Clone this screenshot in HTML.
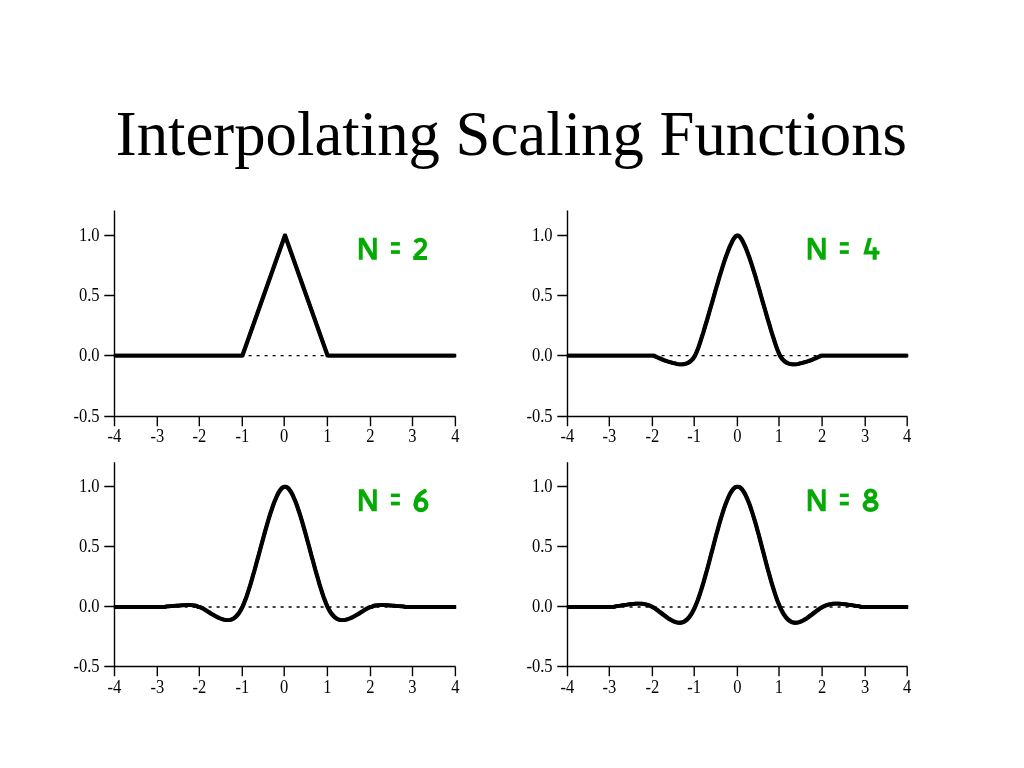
<!DOCTYPE html>
<html><head><meta charset="utf-8"><style>
html,body{margin:0;padding:0;background:#fff;overflow:hidden;}
svg{display:block;will-change:transform;}
</style></head><body>
<svg width="1024" height="768" viewBox="0 0 1024 768">
<rect width="1024" height="768" fill="#fff"/>
<text x="115.8" y="154.8" font-family="'Liberation Serif', serif" font-size="62.75" fill="#000" opacity="0.999">Interpolating Scaling Functions</text>
<g font-family="'Liberation Serif', serif" font-size="18" fill="#000" opacity="0.999">
<line x1="114.5" y1="355.6" x2="455.5" y2="355.6" stroke="#000" stroke-width="1.4" stroke-dasharray="3 5" stroke-dashoffset="1.9"/>
<path d="M114.5,210.5 V426.3 M104.3,416.5 H455.5 M104.3,235.5 H114.5 M104.3,295.5 H114.5 M104.3,355.5 H114.5 M157.3,416.5 V426.3 M199.3,416.5 V426.3 M242.3,416.5 V426.3 M284.2,416.5 V426.3 M327.4,416.5 V426.3 M370.5,416.5 V426.3 M412.5,416.5 V426.3 M455.4,416.5 V426.3" stroke="#000" stroke-width="1.4" fill="none"/>
<text transform="translate(99.6,240.9) scale(0.92,1)" text-anchor="end">1.0</text>
<text transform="translate(99.6,300.9) scale(0.92,1)" text-anchor="end">0.5</text>
<text transform="translate(99.6,360.9) scale(0.92,1)" text-anchor="end">0.0</text>
<text transform="translate(99.6,421.9) scale(0.92,1)" text-anchor="end">-0.5</text>
<text transform="translate(114.5,441.6) scale(0.92,1)" text-anchor="middle">-4</text>
<text transform="translate(157.3,441.6) scale(0.92,1)" text-anchor="middle">-3</text>
<text transform="translate(199.3,441.6) scale(0.92,1)" text-anchor="middle">-2</text>
<text transform="translate(242.3,441.6) scale(0.92,1)" text-anchor="middle">-1</text>
<text transform="translate(284.2,441.6) scale(0.92,1)" text-anchor="middle">0</text>
<text transform="translate(327.4,441.6) scale(0.92,1)" text-anchor="middle">1</text>
<text transform="translate(370.5,441.6) scale(0.92,1)" text-anchor="middle">2</text>
<text transform="translate(412.5,441.6) scale(0.92,1)" text-anchor="middle">3</text>
<text transform="translate(455.4,441.6) scale(0.92,1)" text-anchor="middle">4</text>
<g fill="none" stroke="#000" stroke-width="2.45" stroke-linejoin="round" stroke-linecap="butt">
<polyline transform="translate(-0.7,-0.7)" points="114.5,355.60 242.4,355.60 285.0,235.40 327.6,355.60 455.5,355.60"/>
<polyline transform="translate(0.7,-0.7)" points="114.5,355.60 242.4,355.60 285.0,235.40 327.6,355.60 455.5,355.60"/>
<polyline transform="translate(-0.7,0.7)" points="114.5,355.60 242.4,355.60 285.0,235.40 327.6,355.60 455.5,355.60"/>
<polyline transform="translate(0.7,0.7)" points="114.5,355.60 242.4,355.60 285.0,235.40 327.6,355.60 455.5,355.60"/>
</g>
<g fill="#06aa06"><polygon points="358.8,259.8 358.8,237.8 363.7,237.8 372.9,253.2 372.9,237.8 376.8,237.8 376.8,259.8 371.9,259.8 362.7,244.4 362.7,259.8"/><rect x="390.9" y="242.1" width="9" height="3.5"/><rect x="390.9" y="250.2" width="9" height="3.7"/><path d="M415.1,242.4 C416.4,240.4 418.2,239.7 420.3,239.7 C423.5,239.7 425,241.8 425,244.4 C425,247.4 422.8,249.4 419.8,252 L415.3,256.4" fill="none" stroke="#06aa06" stroke-width="4"/><rect x="413.2" y="256" width="13.8" height="4"/></g>
<line x1="567.5" y1="355.6" x2="907.5" y2="355.6" stroke="#000" stroke-width="1.4" stroke-dasharray="3 5" stroke-dashoffset="1.9"/>
<path d="M567.5,210.5 V426.3 M557.3,416.5 H907.5 M557.3,235.5 H567.5 M557.3,295.5 H567.5 M557.3,355.5 H567.5 M609.3,416.5 V426.3 M652.4,416.5 V426.3 M694.2,416.5 V426.3 M737.4,416.5 V426.3 M779,416.5 V426.3 M822.1,416.5 V426.3 M865.2,416.5 V426.3 M907.2,416.5 V426.3" stroke="#000" stroke-width="1.4" fill="none"/>
<text transform="translate(552.6,240.9) scale(0.92,1)" text-anchor="end">1.0</text>
<text transform="translate(552.6,300.9) scale(0.92,1)" text-anchor="end">0.5</text>
<text transform="translate(552.6,360.9) scale(0.92,1)" text-anchor="end">0.0</text>
<text transform="translate(552.6,421.9) scale(0.92,1)" text-anchor="end">-0.5</text>
<text transform="translate(567.4,441.6) scale(0.92,1)" text-anchor="middle">-4</text>
<text transform="translate(609.3,441.6) scale(0.92,1)" text-anchor="middle">-3</text>
<text transform="translate(652.4,441.6) scale(0.92,1)" text-anchor="middle">-2</text>
<text transform="translate(694.2,441.6) scale(0.92,1)" text-anchor="middle">-1</text>
<text transform="translate(737.4,441.6) scale(0.92,1)" text-anchor="middle">0</text>
<text transform="translate(779,441.6) scale(0.92,1)" text-anchor="middle">1</text>
<text transform="translate(822.1,441.6) scale(0.92,1)" text-anchor="middle">2</text>
<text transform="translate(865.2,441.6) scale(0.92,1)" text-anchor="middle">3</text>
<text transform="translate(907.2,441.6) scale(0.92,1)" text-anchor="middle">4</text>
<g fill="none" stroke="#000" stroke-width="2.45" stroke-linejoin="round" stroke-linecap="butt">
<polyline transform="translate(-0.7,-0.7)" points="567.5,355.60 568.8,355.60 570.2,355.60 571.5,355.60 572.8,355.60 574.1,355.60 575.5,355.60 576.8,355.60 578.1,355.60 579.5,355.60 580.8,355.60 582.1,355.60 583.4,355.60 584.8,355.60 586.1,355.60 587.4,355.60 588.8,355.60 590.1,355.60 591.4,355.60 592.7,355.60 594.1,355.60 595.4,355.60 596.7,355.60 598.0,355.60 599.4,355.60 600.7,355.60 602.0,355.60 603.4,355.60 604.7,355.60 606.0,355.60 607.3,355.60 608.7,355.60 610.0,355.60 611.3,355.60 612.7,355.60 614.0,355.60 615.3,355.60 616.6,355.60 618.0,355.60 619.3,355.60 620.6,355.60 622.0,355.60 623.3,355.60 624.6,355.60 625.9,355.60 627.3,355.60 628.6,355.60 629.9,355.60 631.2,355.60 632.6,355.60 633.9,355.60 635.2,355.60 636.6,355.60 637.9,355.60 639.2,355.60 640.5,355.60 641.9,355.60 643.2,355.60 644.5,355.60 645.9,355.60 647.2,355.60 648.5,355.60 649.8,355.60 651.2,355.60 652.5,355.60 653.8,355.60 655.2,356.46 656.5,356.98 657.8,357.54 659.1,358.11 660.5,358.69 661.8,359.27 663.1,359.83 664.5,360.33 665.8,360.80 667.1,361.25 668.4,361.67 669.8,362.07 671.1,362.43 672.4,362.78 673.8,363.11 675.1,363.48 676.4,363.82 677.7,364.11 679.1,364.32 680.4,364.41 681.7,364.40 683.0,364.28 684.4,364.05 685.7,363.75 687.0,363.31 688.4,362.67 689.7,361.82 691.0,360.77 692.3,359.43 693.7,357.75 695.0,355.60 696.3,352.74 697.7,349.42 699.0,345.78 700.3,341.87 701.6,337.77 703.0,333.51 704.3,329.10 705.6,324.61 707.0,320.13 708.3,315.62 709.6,311.06 710.9,306.48 712.3,301.86 713.6,297.22 714.9,292.60 716.2,287.99 717.6,283.37 718.9,278.81 720.2,274.33 721.6,269.97 722.9,265.78 724.2,261.74 725.5,257.88 726.9,254.18 728.2,250.60 729.5,247.24 730.9,244.20 732.2,241.50 733.5,239.15 734.8,237.28 736.2,235.96 737.5,235.40 738.8,235.96 740.2,237.28 741.5,239.15 742.8,241.50 744.1,244.20 745.5,247.24 746.8,250.60 748.1,254.18 749.5,257.88 750.8,261.74 752.1,265.78 753.4,269.97 754.8,274.33 756.1,278.81 757.4,283.37 758.8,287.99 760.1,292.60 761.4,297.22 762.7,301.86 764.1,306.48 765.4,311.06 766.7,315.62 768.0,320.13 769.4,324.61 770.7,329.10 772.0,333.51 773.4,337.77 774.7,341.87 776.0,345.78 777.3,349.42 778.7,352.74 780.0,355.60 781.3,357.75 782.7,359.43 784.0,360.77 785.3,361.82 786.6,362.67 788.0,363.31 789.3,363.75 790.6,364.05 792.0,364.28 793.3,364.40 794.6,364.41 795.9,364.32 797.3,364.11 798.6,363.82 799.9,363.48 801.2,363.11 802.6,362.78 803.9,362.43 805.2,362.07 806.6,361.67 807.9,361.25 809.2,360.80 810.5,360.33 811.9,359.83 813.2,359.27 814.5,358.69 815.9,358.11 817.2,357.54 818.5,356.98 819.8,356.46 821.2,355.60 822.5,355.60 823.8,355.60 825.2,355.60 826.5,355.60 827.8,355.60 829.1,355.60 830.5,355.60 831.8,355.60 833.1,355.60 834.5,355.60 835.8,355.60 837.1,355.60 838.4,355.60 839.8,355.60 841.1,355.60 842.4,355.60 843.8,355.60 845.1,355.60 846.4,355.60 847.7,355.60 849.1,355.60 850.4,355.60 851.7,355.60 853.0,355.60 854.4,355.60 855.7,355.60 857.0,355.60 858.4,355.60 859.7,355.60 861.0,355.60 862.3,355.60 863.7,355.60 865.0,355.60 866.3,355.60 867.7,355.60 869.0,355.60 870.3,355.60 871.6,355.60 873.0,355.60 874.3,355.60 875.6,355.60 877.0,355.60 878.3,355.60 879.6,355.60 880.9,355.60 882.3,355.60 883.6,355.60 884.9,355.60 886.2,355.60 887.6,355.60 888.9,355.60 890.2,355.60 891.6,355.60 892.9,355.60 894.2,355.60 895.5,355.60 896.9,355.60 898.2,355.60 899.5,355.60 900.9,355.60 902.2,355.60 903.5,355.60 904.8,355.60 906.2,355.60 907.5,355.60"/>
<polyline transform="translate(0.7,-0.7)" points="567.5,355.60 568.8,355.60 570.2,355.60 571.5,355.60 572.8,355.60 574.1,355.60 575.5,355.60 576.8,355.60 578.1,355.60 579.5,355.60 580.8,355.60 582.1,355.60 583.4,355.60 584.8,355.60 586.1,355.60 587.4,355.60 588.8,355.60 590.1,355.60 591.4,355.60 592.7,355.60 594.1,355.60 595.4,355.60 596.7,355.60 598.0,355.60 599.4,355.60 600.7,355.60 602.0,355.60 603.4,355.60 604.7,355.60 606.0,355.60 607.3,355.60 608.7,355.60 610.0,355.60 611.3,355.60 612.7,355.60 614.0,355.60 615.3,355.60 616.6,355.60 618.0,355.60 619.3,355.60 620.6,355.60 622.0,355.60 623.3,355.60 624.6,355.60 625.9,355.60 627.3,355.60 628.6,355.60 629.9,355.60 631.2,355.60 632.6,355.60 633.9,355.60 635.2,355.60 636.6,355.60 637.9,355.60 639.2,355.60 640.5,355.60 641.9,355.60 643.2,355.60 644.5,355.60 645.9,355.60 647.2,355.60 648.5,355.60 649.8,355.60 651.2,355.60 652.5,355.60 653.8,355.60 655.2,356.46 656.5,356.98 657.8,357.54 659.1,358.11 660.5,358.69 661.8,359.27 663.1,359.83 664.5,360.33 665.8,360.80 667.1,361.25 668.4,361.67 669.8,362.07 671.1,362.43 672.4,362.78 673.8,363.11 675.1,363.48 676.4,363.82 677.7,364.11 679.1,364.32 680.4,364.41 681.7,364.40 683.0,364.28 684.4,364.05 685.7,363.75 687.0,363.31 688.4,362.67 689.7,361.82 691.0,360.77 692.3,359.43 693.7,357.75 695.0,355.60 696.3,352.74 697.7,349.42 699.0,345.78 700.3,341.87 701.6,337.77 703.0,333.51 704.3,329.10 705.6,324.61 707.0,320.13 708.3,315.62 709.6,311.06 710.9,306.48 712.3,301.86 713.6,297.22 714.9,292.60 716.2,287.99 717.6,283.37 718.9,278.81 720.2,274.33 721.6,269.97 722.9,265.78 724.2,261.74 725.5,257.88 726.9,254.18 728.2,250.60 729.5,247.24 730.9,244.20 732.2,241.50 733.5,239.15 734.8,237.28 736.2,235.96 737.5,235.40 738.8,235.96 740.2,237.28 741.5,239.15 742.8,241.50 744.1,244.20 745.5,247.24 746.8,250.60 748.1,254.18 749.5,257.88 750.8,261.74 752.1,265.78 753.4,269.97 754.8,274.33 756.1,278.81 757.4,283.37 758.8,287.99 760.1,292.60 761.4,297.22 762.7,301.86 764.1,306.48 765.4,311.06 766.7,315.62 768.0,320.13 769.4,324.61 770.7,329.10 772.0,333.51 773.4,337.77 774.7,341.87 776.0,345.78 777.3,349.42 778.7,352.74 780.0,355.60 781.3,357.75 782.7,359.43 784.0,360.77 785.3,361.82 786.6,362.67 788.0,363.31 789.3,363.75 790.6,364.05 792.0,364.28 793.3,364.40 794.6,364.41 795.9,364.32 797.3,364.11 798.6,363.82 799.9,363.48 801.2,363.11 802.6,362.78 803.9,362.43 805.2,362.07 806.6,361.67 807.9,361.25 809.2,360.80 810.5,360.33 811.9,359.83 813.2,359.27 814.5,358.69 815.9,358.11 817.2,357.54 818.5,356.98 819.8,356.46 821.2,355.60 822.5,355.60 823.8,355.60 825.2,355.60 826.5,355.60 827.8,355.60 829.1,355.60 830.5,355.60 831.8,355.60 833.1,355.60 834.5,355.60 835.8,355.60 837.1,355.60 838.4,355.60 839.8,355.60 841.1,355.60 842.4,355.60 843.8,355.60 845.1,355.60 846.4,355.60 847.7,355.60 849.1,355.60 850.4,355.60 851.7,355.60 853.0,355.60 854.4,355.60 855.7,355.60 857.0,355.60 858.4,355.60 859.7,355.60 861.0,355.60 862.3,355.60 863.7,355.60 865.0,355.60 866.3,355.60 867.7,355.60 869.0,355.60 870.3,355.60 871.6,355.60 873.0,355.60 874.3,355.60 875.6,355.60 877.0,355.60 878.3,355.60 879.6,355.60 880.9,355.60 882.3,355.60 883.6,355.60 884.9,355.60 886.2,355.60 887.6,355.60 888.9,355.60 890.2,355.60 891.6,355.60 892.9,355.60 894.2,355.60 895.5,355.60 896.9,355.60 898.2,355.60 899.5,355.60 900.9,355.60 902.2,355.60 903.5,355.60 904.8,355.60 906.2,355.60 907.5,355.60"/>
<polyline transform="translate(-0.7,0.7)" points="567.5,355.60 568.8,355.60 570.2,355.60 571.5,355.60 572.8,355.60 574.1,355.60 575.5,355.60 576.8,355.60 578.1,355.60 579.5,355.60 580.8,355.60 582.1,355.60 583.4,355.60 584.8,355.60 586.1,355.60 587.4,355.60 588.8,355.60 590.1,355.60 591.4,355.60 592.7,355.60 594.1,355.60 595.4,355.60 596.7,355.60 598.0,355.60 599.4,355.60 600.7,355.60 602.0,355.60 603.4,355.60 604.7,355.60 606.0,355.60 607.3,355.60 608.7,355.60 610.0,355.60 611.3,355.60 612.7,355.60 614.0,355.60 615.3,355.60 616.6,355.60 618.0,355.60 619.3,355.60 620.6,355.60 622.0,355.60 623.3,355.60 624.6,355.60 625.9,355.60 627.3,355.60 628.6,355.60 629.9,355.60 631.2,355.60 632.6,355.60 633.9,355.60 635.2,355.60 636.6,355.60 637.9,355.60 639.2,355.60 640.5,355.60 641.9,355.60 643.2,355.60 644.5,355.60 645.9,355.60 647.2,355.60 648.5,355.60 649.8,355.60 651.2,355.60 652.5,355.60 653.8,355.60 655.2,356.46 656.5,356.98 657.8,357.54 659.1,358.11 660.5,358.69 661.8,359.27 663.1,359.83 664.5,360.33 665.8,360.80 667.1,361.25 668.4,361.67 669.8,362.07 671.1,362.43 672.4,362.78 673.8,363.11 675.1,363.48 676.4,363.82 677.7,364.11 679.1,364.32 680.4,364.41 681.7,364.40 683.0,364.28 684.4,364.05 685.7,363.75 687.0,363.31 688.4,362.67 689.7,361.82 691.0,360.77 692.3,359.43 693.7,357.75 695.0,355.60 696.3,352.74 697.7,349.42 699.0,345.78 700.3,341.87 701.6,337.77 703.0,333.51 704.3,329.10 705.6,324.61 707.0,320.13 708.3,315.62 709.6,311.06 710.9,306.48 712.3,301.86 713.6,297.22 714.9,292.60 716.2,287.99 717.6,283.37 718.9,278.81 720.2,274.33 721.6,269.97 722.9,265.78 724.2,261.74 725.5,257.88 726.9,254.18 728.2,250.60 729.5,247.24 730.9,244.20 732.2,241.50 733.5,239.15 734.8,237.28 736.2,235.96 737.5,235.40 738.8,235.96 740.2,237.28 741.5,239.15 742.8,241.50 744.1,244.20 745.5,247.24 746.8,250.60 748.1,254.18 749.5,257.88 750.8,261.74 752.1,265.78 753.4,269.97 754.8,274.33 756.1,278.81 757.4,283.37 758.8,287.99 760.1,292.60 761.4,297.22 762.7,301.86 764.1,306.48 765.4,311.06 766.7,315.62 768.0,320.13 769.4,324.61 770.7,329.10 772.0,333.51 773.4,337.77 774.7,341.87 776.0,345.78 777.3,349.42 778.7,352.74 780.0,355.60 781.3,357.75 782.7,359.43 784.0,360.77 785.3,361.82 786.6,362.67 788.0,363.31 789.3,363.75 790.6,364.05 792.0,364.28 793.3,364.40 794.6,364.41 795.9,364.32 797.3,364.11 798.6,363.82 799.9,363.48 801.2,363.11 802.6,362.78 803.9,362.43 805.2,362.07 806.6,361.67 807.9,361.25 809.2,360.80 810.5,360.33 811.9,359.83 813.2,359.27 814.5,358.69 815.9,358.11 817.2,357.54 818.5,356.98 819.8,356.46 821.2,355.60 822.5,355.60 823.8,355.60 825.2,355.60 826.5,355.60 827.8,355.60 829.1,355.60 830.5,355.60 831.8,355.60 833.1,355.60 834.5,355.60 835.8,355.60 837.1,355.60 838.4,355.60 839.8,355.60 841.1,355.60 842.4,355.60 843.8,355.60 845.1,355.60 846.4,355.60 847.7,355.60 849.1,355.60 850.4,355.60 851.7,355.60 853.0,355.60 854.4,355.60 855.7,355.60 857.0,355.60 858.4,355.60 859.7,355.60 861.0,355.60 862.3,355.60 863.7,355.60 865.0,355.60 866.3,355.60 867.7,355.60 869.0,355.60 870.3,355.60 871.6,355.60 873.0,355.60 874.3,355.60 875.6,355.60 877.0,355.60 878.3,355.60 879.6,355.60 880.9,355.60 882.3,355.60 883.6,355.60 884.9,355.60 886.2,355.60 887.6,355.60 888.9,355.60 890.2,355.60 891.6,355.60 892.9,355.60 894.2,355.60 895.5,355.60 896.9,355.60 898.2,355.60 899.5,355.60 900.9,355.60 902.2,355.60 903.5,355.60 904.8,355.60 906.2,355.60 907.5,355.60"/>
<polyline transform="translate(0.7,0.7)" points="567.5,355.60 568.8,355.60 570.2,355.60 571.5,355.60 572.8,355.60 574.1,355.60 575.5,355.60 576.8,355.60 578.1,355.60 579.5,355.60 580.8,355.60 582.1,355.60 583.4,355.60 584.8,355.60 586.1,355.60 587.4,355.60 588.8,355.60 590.1,355.60 591.4,355.60 592.7,355.60 594.1,355.60 595.4,355.60 596.7,355.60 598.0,355.60 599.4,355.60 600.7,355.60 602.0,355.60 603.4,355.60 604.7,355.60 606.0,355.60 607.3,355.60 608.7,355.60 610.0,355.60 611.3,355.60 612.7,355.60 614.0,355.60 615.3,355.60 616.6,355.60 618.0,355.60 619.3,355.60 620.6,355.60 622.0,355.60 623.3,355.60 624.6,355.60 625.9,355.60 627.3,355.60 628.6,355.60 629.9,355.60 631.2,355.60 632.6,355.60 633.9,355.60 635.2,355.60 636.6,355.60 637.9,355.60 639.2,355.60 640.5,355.60 641.9,355.60 643.2,355.60 644.5,355.60 645.9,355.60 647.2,355.60 648.5,355.60 649.8,355.60 651.2,355.60 652.5,355.60 653.8,355.60 655.2,356.46 656.5,356.98 657.8,357.54 659.1,358.11 660.5,358.69 661.8,359.27 663.1,359.83 664.5,360.33 665.8,360.80 667.1,361.25 668.4,361.67 669.8,362.07 671.1,362.43 672.4,362.78 673.8,363.11 675.1,363.48 676.4,363.82 677.7,364.11 679.1,364.32 680.4,364.41 681.7,364.40 683.0,364.28 684.4,364.05 685.7,363.75 687.0,363.31 688.4,362.67 689.7,361.82 691.0,360.77 692.3,359.43 693.7,357.75 695.0,355.60 696.3,352.74 697.7,349.42 699.0,345.78 700.3,341.87 701.6,337.77 703.0,333.51 704.3,329.10 705.6,324.61 707.0,320.13 708.3,315.62 709.6,311.06 710.9,306.48 712.3,301.86 713.6,297.22 714.9,292.60 716.2,287.99 717.6,283.37 718.9,278.81 720.2,274.33 721.6,269.97 722.9,265.78 724.2,261.74 725.5,257.88 726.9,254.18 728.2,250.60 729.5,247.24 730.9,244.20 732.2,241.50 733.5,239.15 734.8,237.28 736.2,235.96 737.5,235.40 738.8,235.96 740.2,237.28 741.5,239.15 742.8,241.50 744.1,244.20 745.5,247.24 746.8,250.60 748.1,254.18 749.5,257.88 750.8,261.74 752.1,265.78 753.4,269.97 754.8,274.33 756.1,278.81 757.4,283.37 758.8,287.99 760.1,292.60 761.4,297.22 762.7,301.86 764.1,306.48 765.4,311.06 766.7,315.62 768.0,320.13 769.4,324.61 770.7,329.10 772.0,333.51 773.4,337.77 774.7,341.87 776.0,345.78 777.3,349.42 778.7,352.74 780.0,355.60 781.3,357.75 782.7,359.43 784.0,360.77 785.3,361.82 786.6,362.67 788.0,363.31 789.3,363.75 790.6,364.05 792.0,364.28 793.3,364.40 794.6,364.41 795.9,364.32 797.3,364.11 798.6,363.82 799.9,363.48 801.2,363.11 802.6,362.78 803.9,362.43 805.2,362.07 806.6,361.67 807.9,361.25 809.2,360.80 810.5,360.33 811.9,359.83 813.2,359.27 814.5,358.69 815.9,358.11 817.2,357.54 818.5,356.98 819.8,356.46 821.2,355.60 822.5,355.60 823.8,355.60 825.2,355.60 826.5,355.60 827.8,355.60 829.1,355.60 830.5,355.60 831.8,355.60 833.1,355.60 834.5,355.60 835.8,355.60 837.1,355.60 838.4,355.60 839.8,355.60 841.1,355.60 842.4,355.60 843.8,355.60 845.1,355.60 846.4,355.60 847.7,355.60 849.1,355.60 850.4,355.60 851.7,355.60 853.0,355.60 854.4,355.60 855.7,355.60 857.0,355.60 858.4,355.60 859.7,355.60 861.0,355.60 862.3,355.60 863.7,355.60 865.0,355.60 866.3,355.60 867.7,355.60 869.0,355.60 870.3,355.60 871.6,355.60 873.0,355.60 874.3,355.60 875.6,355.60 877.0,355.60 878.3,355.60 879.6,355.60 880.9,355.60 882.3,355.60 883.6,355.60 884.9,355.60 886.2,355.60 887.6,355.60 888.9,355.60 890.2,355.60 891.6,355.60 892.9,355.60 894.2,355.60 895.5,355.60 896.9,355.60 898.2,355.60 899.5,355.60 900.9,355.60 902.2,355.60 903.5,355.60 904.8,355.60 906.2,355.60 907.5,355.60"/>
</g>
<g fill="#06aa06"><polygon points="807.7,259.8 807.7,237.8 812.6,237.8 821.8,253.2 821.8,237.8 825.7,237.8 825.7,259.8 820.8,259.8 811.6,244.4 811.6,259.8"/><rect x="839.8" y="242.1" width="9" height="3.5"/><rect x="839.8" y="250.2" width="9" height="3.7"/><polygon points="867.8,237.9 871.9,237.9 868.4,250.8 872.6,250.8 872.6,247.3 876.7,247.3 876.7,250.8 879.5,250.8 879.5,254.5 876.7,254.5 876.7,259.8 872.6,259.8 872.6,254.5 863.3,254.5"/></g>
<line x1="114.5" y1="607" x2="455.5" y2="607" stroke="#000" stroke-width="1.4" stroke-dasharray="3 5" stroke-dashoffset="1.9"/>
<path d="M114.5,462.2 V676.3 M104.3,666.5 H455.5 M104.3,486.5 H114.5 M104.3,546.5 H114.5 M104.3,606.5 H114.5 M157.3,666.5 V676.3 M199.3,666.5 V676.3 M242.3,666.5 V676.3 M284.2,666.5 V676.3 M327.4,666.5 V676.3 M370.5,666.5 V676.3 M412.5,666.5 V676.3 M455.4,666.5 V676.3" stroke="#000" stroke-width="1.4" fill="none"/>
<text transform="translate(99.6,491.9) scale(0.92,1)" text-anchor="end">1.0</text>
<text transform="translate(99.6,551.9) scale(0.92,1)" text-anchor="end">0.5</text>
<text transform="translate(99.6,611.9) scale(0.92,1)" text-anchor="end">0.0</text>
<text transform="translate(99.6,671.9) scale(0.92,1)" text-anchor="end">-0.5</text>
<text transform="translate(114.5,692.7) scale(0.92,1)" text-anchor="middle">-4</text>
<text transform="translate(157.3,692.7) scale(0.92,1)" text-anchor="middle">-3</text>
<text transform="translate(199.3,692.7) scale(0.92,1)" text-anchor="middle">-2</text>
<text transform="translate(242.3,692.7) scale(0.92,1)" text-anchor="middle">-1</text>
<text transform="translate(284.2,692.7) scale(0.92,1)" text-anchor="middle">0</text>
<text transform="translate(327.4,692.7) scale(0.92,1)" text-anchor="middle">1</text>
<text transform="translate(370.5,692.7) scale(0.92,1)" text-anchor="middle">2</text>
<text transform="translate(412.5,692.7) scale(0.92,1)" text-anchor="middle">3</text>
<text transform="translate(455.4,692.7) scale(0.92,1)" text-anchor="middle">4</text>
<g fill="none" stroke="#000" stroke-width="2.45" stroke-linejoin="round" stroke-linecap="butt">
<polyline transform="translate(-0.7,-0.7)" points="114.5,607.00 115.8,607.00 117.2,607.00 118.5,607.00 119.8,607.00 121.2,607.00 122.5,607.00 123.8,607.00 125.2,607.00 126.5,607.00 127.8,607.00 129.2,607.00 130.5,607.00 131.8,607.00 133.1,607.00 134.5,607.00 135.8,607.00 137.1,607.00 138.5,607.00 139.8,607.00 141.1,607.00 142.5,607.00 143.8,607.00 145.1,607.00 146.5,607.00 147.8,607.00 149.1,607.00 150.5,607.00 151.8,607.00 153.1,607.00 154.5,607.00 155.8,607.00 157.1,607.00 158.5,607.00 159.8,607.00 161.1,607.00 162.5,607.00 163.8,607.00 165.1,607.00 166.4,606.41 167.8,606.31 169.1,606.22 170.4,606.14 171.8,606.05 173.1,605.96 174.4,605.88 175.8,605.79 177.1,605.69 178.4,605.59 179.8,605.48 181.1,605.36 182.4,605.25 183.8,605.16 185.1,605.08 186.4,605.03 187.8,605.01 189.1,605.03 190.4,605.07 191.8,605.16 193.1,605.31 194.4,605.50 195.8,605.76 197.1,606.09 198.4,607.00 199.8,607.00 201.1,607.59 202.4,608.27 203.7,609.01 205.1,609.81 206.4,610.64 207.7,611.49 209.1,612.35 210.4,613.20 211.7,614.02 213.1,614.81 214.4,615.57 215.7,616.29 217.1,616.98 218.4,617.62 219.7,618.22 221.1,618.76 222.4,619.24 223.7,619.65 225.1,619.96 226.4,620.15 227.7,620.19 229.1,620.08 230.4,619.80 231.7,619.35 233.1,618.71 234.4,617.86 235.7,616.77 237.0,615.42 238.4,613.79 239.7,611.87 241.0,609.61 242.4,607.00 243.7,604.01 245.0,600.67 246.4,597.02 247.7,593.10 249.0,588.96 250.4,584.61 251.7,580.09 253.0,575.45 254.4,570.72 255.7,565.92 257.0,561.06 258.4,556.15 259.7,551.21 261.0,546.27 262.4,541.34 263.7,536.45 265.0,531.63 266.4,526.89 267.7,522.29 269.0,517.84 270.3,513.58 271.7,509.53 273.0,505.72 274.3,502.14 275.7,498.84 277.0,495.84 278.3,493.20 279.7,490.95 281.0,489.12 282.3,487.75 283.7,486.90 285.0,486.60 286.3,486.90 287.7,487.75 289.0,489.12 290.3,490.95 291.7,493.20 293.0,495.84 294.3,498.84 295.7,502.14 297.0,505.72 298.3,509.53 299.7,513.58 301.0,517.84 302.3,522.29 303.6,526.89 305.0,531.63 306.3,536.45 307.6,541.34 309.0,546.27 310.3,551.21 311.6,556.15 313.0,561.06 314.3,565.92 315.6,570.72 317.0,575.45 318.3,580.09 319.6,584.61 321.0,588.96 322.3,593.10 323.6,597.02 325.0,600.67 326.3,604.01 327.6,607.00 329.0,609.61 330.3,611.87 331.6,613.79 333.0,615.42 334.3,616.77 335.6,617.86 336.9,618.71 338.3,619.35 339.6,619.80 340.9,620.08 342.3,620.19 343.6,620.15 344.9,619.96 346.3,619.65 347.6,619.24 348.9,618.76 350.3,618.22 351.6,617.62 352.9,616.98 354.3,616.29 355.6,615.57 356.9,614.81 358.3,614.02 359.6,613.20 360.9,612.35 362.3,611.49 363.6,610.64 364.9,609.81 366.3,609.01 367.6,608.27 368.9,607.59 370.2,607.00 371.6,607.00 372.9,606.09 374.2,605.76 375.6,605.50 376.9,605.31 378.2,605.16 379.6,605.07 380.9,605.03 382.2,605.01 383.6,605.03 384.9,605.08 386.2,605.16 387.6,605.25 388.9,605.36 390.2,605.48 391.6,605.59 392.9,605.69 394.2,605.79 395.6,605.88 396.9,605.96 398.2,606.05 399.6,606.14 400.9,606.22 402.2,606.31 403.6,606.41 404.9,607.00 406.2,607.00 407.5,607.00 408.9,607.00 410.2,607.00 411.5,607.00 412.9,607.00 414.2,607.00 415.5,607.00 416.9,607.00 418.2,607.00 419.5,607.00 420.9,607.00 422.2,607.00 423.5,607.00 424.9,607.00 426.2,607.00 427.5,607.00 428.9,607.00 430.2,607.00 431.5,607.00 432.9,607.00 434.2,607.00 435.5,607.00 436.9,607.00 438.2,607.00 439.5,607.00 440.8,607.00 442.2,607.00 443.5,607.00 444.8,607.00 446.2,607.00 447.5,607.00 448.8,607.00 450.2,607.00 451.5,607.00 452.8,607.00 454.2,607.00 455.5,607.00"/>
<polyline transform="translate(0.7,-0.7)" points="114.5,607.00 115.8,607.00 117.2,607.00 118.5,607.00 119.8,607.00 121.2,607.00 122.5,607.00 123.8,607.00 125.2,607.00 126.5,607.00 127.8,607.00 129.2,607.00 130.5,607.00 131.8,607.00 133.1,607.00 134.5,607.00 135.8,607.00 137.1,607.00 138.5,607.00 139.8,607.00 141.1,607.00 142.5,607.00 143.8,607.00 145.1,607.00 146.5,607.00 147.8,607.00 149.1,607.00 150.5,607.00 151.8,607.00 153.1,607.00 154.5,607.00 155.8,607.00 157.1,607.00 158.5,607.00 159.8,607.00 161.1,607.00 162.5,607.00 163.8,607.00 165.1,607.00 166.4,606.41 167.8,606.31 169.1,606.22 170.4,606.14 171.8,606.05 173.1,605.96 174.4,605.88 175.8,605.79 177.1,605.69 178.4,605.59 179.8,605.48 181.1,605.36 182.4,605.25 183.8,605.16 185.1,605.08 186.4,605.03 187.8,605.01 189.1,605.03 190.4,605.07 191.8,605.16 193.1,605.31 194.4,605.50 195.8,605.76 197.1,606.09 198.4,607.00 199.8,607.00 201.1,607.59 202.4,608.27 203.7,609.01 205.1,609.81 206.4,610.64 207.7,611.49 209.1,612.35 210.4,613.20 211.7,614.02 213.1,614.81 214.4,615.57 215.7,616.29 217.1,616.98 218.4,617.62 219.7,618.22 221.1,618.76 222.4,619.24 223.7,619.65 225.1,619.96 226.4,620.15 227.7,620.19 229.1,620.08 230.4,619.80 231.7,619.35 233.1,618.71 234.4,617.86 235.7,616.77 237.0,615.42 238.4,613.79 239.7,611.87 241.0,609.61 242.4,607.00 243.7,604.01 245.0,600.67 246.4,597.02 247.7,593.10 249.0,588.96 250.4,584.61 251.7,580.09 253.0,575.45 254.4,570.72 255.7,565.92 257.0,561.06 258.4,556.15 259.7,551.21 261.0,546.27 262.4,541.34 263.7,536.45 265.0,531.63 266.4,526.89 267.7,522.29 269.0,517.84 270.3,513.58 271.7,509.53 273.0,505.72 274.3,502.14 275.7,498.84 277.0,495.84 278.3,493.20 279.7,490.95 281.0,489.12 282.3,487.75 283.7,486.90 285.0,486.60 286.3,486.90 287.7,487.75 289.0,489.12 290.3,490.95 291.7,493.20 293.0,495.84 294.3,498.84 295.7,502.14 297.0,505.72 298.3,509.53 299.7,513.58 301.0,517.84 302.3,522.29 303.6,526.89 305.0,531.63 306.3,536.45 307.6,541.34 309.0,546.27 310.3,551.21 311.6,556.15 313.0,561.06 314.3,565.92 315.6,570.72 317.0,575.45 318.3,580.09 319.6,584.61 321.0,588.96 322.3,593.10 323.6,597.02 325.0,600.67 326.3,604.01 327.6,607.00 329.0,609.61 330.3,611.87 331.6,613.79 333.0,615.42 334.3,616.77 335.6,617.86 336.9,618.71 338.3,619.35 339.6,619.80 340.9,620.08 342.3,620.19 343.6,620.15 344.9,619.96 346.3,619.65 347.6,619.24 348.9,618.76 350.3,618.22 351.6,617.62 352.9,616.98 354.3,616.29 355.6,615.57 356.9,614.81 358.3,614.02 359.6,613.20 360.9,612.35 362.3,611.49 363.6,610.64 364.9,609.81 366.3,609.01 367.6,608.27 368.9,607.59 370.2,607.00 371.6,607.00 372.9,606.09 374.2,605.76 375.6,605.50 376.9,605.31 378.2,605.16 379.6,605.07 380.9,605.03 382.2,605.01 383.6,605.03 384.9,605.08 386.2,605.16 387.6,605.25 388.9,605.36 390.2,605.48 391.6,605.59 392.9,605.69 394.2,605.79 395.6,605.88 396.9,605.96 398.2,606.05 399.6,606.14 400.9,606.22 402.2,606.31 403.6,606.41 404.9,607.00 406.2,607.00 407.5,607.00 408.9,607.00 410.2,607.00 411.5,607.00 412.9,607.00 414.2,607.00 415.5,607.00 416.9,607.00 418.2,607.00 419.5,607.00 420.9,607.00 422.2,607.00 423.5,607.00 424.9,607.00 426.2,607.00 427.5,607.00 428.9,607.00 430.2,607.00 431.5,607.00 432.9,607.00 434.2,607.00 435.5,607.00 436.9,607.00 438.2,607.00 439.5,607.00 440.8,607.00 442.2,607.00 443.5,607.00 444.8,607.00 446.2,607.00 447.5,607.00 448.8,607.00 450.2,607.00 451.5,607.00 452.8,607.00 454.2,607.00 455.5,607.00"/>
<polyline transform="translate(-0.7,0.7)" points="114.5,607.00 115.8,607.00 117.2,607.00 118.5,607.00 119.8,607.00 121.2,607.00 122.5,607.00 123.8,607.00 125.2,607.00 126.5,607.00 127.8,607.00 129.2,607.00 130.5,607.00 131.8,607.00 133.1,607.00 134.5,607.00 135.8,607.00 137.1,607.00 138.5,607.00 139.8,607.00 141.1,607.00 142.5,607.00 143.8,607.00 145.1,607.00 146.5,607.00 147.8,607.00 149.1,607.00 150.5,607.00 151.8,607.00 153.1,607.00 154.5,607.00 155.8,607.00 157.1,607.00 158.5,607.00 159.8,607.00 161.1,607.00 162.5,607.00 163.8,607.00 165.1,607.00 166.4,606.41 167.8,606.31 169.1,606.22 170.4,606.14 171.8,606.05 173.1,605.96 174.4,605.88 175.8,605.79 177.1,605.69 178.4,605.59 179.8,605.48 181.1,605.36 182.4,605.25 183.8,605.16 185.1,605.08 186.4,605.03 187.8,605.01 189.1,605.03 190.4,605.07 191.8,605.16 193.1,605.31 194.4,605.50 195.8,605.76 197.1,606.09 198.4,607.00 199.8,607.00 201.1,607.59 202.4,608.27 203.7,609.01 205.1,609.81 206.4,610.64 207.7,611.49 209.1,612.35 210.4,613.20 211.7,614.02 213.1,614.81 214.4,615.57 215.7,616.29 217.1,616.98 218.4,617.62 219.7,618.22 221.1,618.76 222.4,619.24 223.7,619.65 225.1,619.96 226.4,620.15 227.7,620.19 229.1,620.08 230.4,619.80 231.7,619.35 233.1,618.71 234.4,617.86 235.7,616.77 237.0,615.42 238.4,613.79 239.7,611.87 241.0,609.61 242.4,607.00 243.7,604.01 245.0,600.67 246.4,597.02 247.7,593.10 249.0,588.96 250.4,584.61 251.7,580.09 253.0,575.45 254.4,570.72 255.7,565.92 257.0,561.06 258.4,556.15 259.7,551.21 261.0,546.27 262.4,541.34 263.7,536.45 265.0,531.63 266.4,526.89 267.7,522.29 269.0,517.84 270.3,513.58 271.7,509.53 273.0,505.72 274.3,502.14 275.7,498.84 277.0,495.84 278.3,493.20 279.7,490.95 281.0,489.12 282.3,487.75 283.7,486.90 285.0,486.60 286.3,486.90 287.7,487.75 289.0,489.12 290.3,490.95 291.7,493.20 293.0,495.84 294.3,498.84 295.7,502.14 297.0,505.72 298.3,509.53 299.7,513.58 301.0,517.84 302.3,522.29 303.6,526.89 305.0,531.63 306.3,536.45 307.6,541.34 309.0,546.27 310.3,551.21 311.6,556.15 313.0,561.06 314.3,565.92 315.6,570.72 317.0,575.45 318.3,580.09 319.6,584.61 321.0,588.96 322.3,593.10 323.6,597.02 325.0,600.67 326.3,604.01 327.6,607.00 329.0,609.61 330.3,611.87 331.6,613.79 333.0,615.42 334.3,616.77 335.6,617.86 336.9,618.71 338.3,619.35 339.6,619.80 340.9,620.08 342.3,620.19 343.6,620.15 344.9,619.96 346.3,619.65 347.6,619.24 348.9,618.76 350.3,618.22 351.6,617.62 352.9,616.98 354.3,616.29 355.6,615.57 356.9,614.81 358.3,614.02 359.6,613.20 360.9,612.35 362.3,611.49 363.6,610.64 364.9,609.81 366.3,609.01 367.6,608.27 368.9,607.59 370.2,607.00 371.6,607.00 372.9,606.09 374.2,605.76 375.6,605.50 376.9,605.31 378.2,605.16 379.6,605.07 380.9,605.03 382.2,605.01 383.6,605.03 384.9,605.08 386.2,605.16 387.6,605.25 388.9,605.36 390.2,605.48 391.6,605.59 392.9,605.69 394.2,605.79 395.6,605.88 396.9,605.96 398.2,606.05 399.6,606.14 400.9,606.22 402.2,606.31 403.6,606.41 404.9,607.00 406.2,607.00 407.5,607.00 408.9,607.00 410.2,607.00 411.5,607.00 412.9,607.00 414.2,607.00 415.5,607.00 416.9,607.00 418.2,607.00 419.5,607.00 420.9,607.00 422.2,607.00 423.5,607.00 424.9,607.00 426.2,607.00 427.5,607.00 428.9,607.00 430.2,607.00 431.5,607.00 432.9,607.00 434.2,607.00 435.5,607.00 436.9,607.00 438.2,607.00 439.5,607.00 440.8,607.00 442.2,607.00 443.5,607.00 444.8,607.00 446.2,607.00 447.5,607.00 448.8,607.00 450.2,607.00 451.5,607.00 452.8,607.00 454.2,607.00 455.5,607.00"/>
<polyline transform="translate(0.7,0.7)" points="114.5,607.00 115.8,607.00 117.2,607.00 118.5,607.00 119.8,607.00 121.2,607.00 122.5,607.00 123.8,607.00 125.2,607.00 126.5,607.00 127.8,607.00 129.2,607.00 130.5,607.00 131.8,607.00 133.1,607.00 134.5,607.00 135.8,607.00 137.1,607.00 138.5,607.00 139.8,607.00 141.1,607.00 142.5,607.00 143.8,607.00 145.1,607.00 146.5,607.00 147.8,607.00 149.1,607.00 150.5,607.00 151.8,607.00 153.1,607.00 154.5,607.00 155.8,607.00 157.1,607.00 158.5,607.00 159.8,607.00 161.1,607.00 162.5,607.00 163.8,607.00 165.1,607.00 166.4,606.41 167.8,606.31 169.1,606.22 170.4,606.14 171.8,606.05 173.1,605.96 174.4,605.88 175.8,605.79 177.1,605.69 178.4,605.59 179.8,605.48 181.1,605.36 182.4,605.25 183.8,605.16 185.1,605.08 186.4,605.03 187.8,605.01 189.1,605.03 190.4,605.07 191.8,605.16 193.1,605.31 194.4,605.50 195.8,605.76 197.1,606.09 198.4,607.00 199.8,607.00 201.1,607.59 202.4,608.27 203.7,609.01 205.1,609.81 206.4,610.64 207.7,611.49 209.1,612.35 210.4,613.20 211.7,614.02 213.1,614.81 214.4,615.57 215.7,616.29 217.1,616.98 218.4,617.62 219.7,618.22 221.1,618.76 222.4,619.24 223.7,619.65 225.1,619.96 226.4,620.15 227.7,620.19 229.1,620.08 230.4,619.80 231.7,619.35 233.1,618.71 234.4,617.86 235.7,616.77 237.0,615.42 238.4,613.79 239.7,611.87 241.0,609.61 242.4,607.00 243.7,604.01 245.0,600.67 246.4,597.02 247.7,593.10 249.0,588.96 250.4,584.61 251.7,580.09 253.0,575.45 254.4,570.72 255.7,565.92 257.0,561.06 258.4,556.15 259.7,551.21 261.0,546.27 262.4,541.34 263.7,536.45 265.0,531.63 266.4,526.89 267.7,522.29 269.0,517.84 270.3,513.58 271.7,509.53 273.0,505.72 274.3,502.14 275.7,498.84 277.0,495.84 278.3,493.20 279.7,490.95 281.0,489.12 282.3,487.75 283.7,486.90 285.0,486.60 286.3,486.90 287.7,487.75 289.0,489.12 290.3,490.95 291.7,493.20 293.0,495.84 294.3,498.84 295.7,502.14 297.0,505.72 298.3,509.53 299.7,513.58 301.0,517.84 302.3,522.29 303.6,526.89 305.0,531.63 306.3,536.45 307.6,541.34 309.0,546.27 310.3,551.21 311.6,556.15 313.0,561.06 314.3,565.92 315.6,570.72 317.0,575.45 318.3,580.09 319.6,584.61 321.0,588.96 322.3,593.10 323.6,597.02 325.0,600.67 326.3,604.01 327.6,607.00 329.0,609.61 330.3,611.87 331.6,613.79 333.0,615.42 334.3,616.77 335.6,617.86 336.9,618.71 338.3,619.35 339.6,619.80 340.9,620.08 342.3,620.19 343.6,620.15 344.9,619.96 346.3,619.65 347.6,619.24 348.9,618.76 350.3,618.22 351.6,617.62 352.9,616.98 354.3,616.29 355.6,615.57 356.9,614.81 358.3,614.02 359.6,613.20 360.9,612.35 362.3,611.49 363.6,610.64 364.9,609.81 366.3,609.01 367.6,608.27 368.9,607.59 370.2,607.00 371.6,607.00 372.9,606.09 374.2,605.76 375.6,605.50 376.9,605.31 378.2,605.16 379.6,605.07 380.9,605.03 382.2,605.01 383.6,605.03 384.9,605.08 386.2,605.16 387.6,605.25 388.9,605.36 390.2,605.48 391.6,605.59 392.9,605.69 394.2,605.79 395.6,605.88 396.9,605.96 398.2,606.05 399.6,606.14 400.9,606.22 402.2,606.31 403.6,606.41 404.9,607.00 406.2,607.00 407.5,607.00 408.9,607.00 410.2,607.00 411.5,607.00 412.9,607.00 414.2,607.00 415.5,607.00 416.9,607.00 418.2,607.00 419.5,607.00 420.9,607.00 422.2,607.00 423.5,607.00 424.9,607.00 426.2,607.00 427.5,607.00 428.9,607.00 430.2,607.00 431.5,607.00 432.9,607.00 434.2,607.00 435.5,607.00 436.9,607.00 438.2,607.00 439.5,607.00 440.8,607.00 442.2,607.00 443.5,607.00 444.8,607.00 446.2,607.00 447.5,607.00 448.8,607.00 450.2,607.00 451.5,607.00 452.8,607.00 454.2,607.00 455.5,607.00"/>
</g>
<g fill="#06aa06"><polygon points="358.8,511.3 358.8,489.3 363.7,489.3 372.9,504.7 372.9,489.3 376.8,489.3 376.8,511.3 371.9,511.3 362.7,495.9 362.7,511.3"/><rect x="390.9" y="493.6" width="9" height="3.5"/><rect x="390.9" y="501.7" width="9" height="3.7"/><circle cx="421" cy="504.8" r="5.4" fill="none" stroke="#06aa06" stroke-width="4.2"/><path d="M415.6,505.3 Q415.6,495.3 424.7,491.1" fill="none" stroke="#06aa06" stroke-width="4.2" stroke-linecap="round"/></g>
<line x1="567.5" y1="607" x2="907.5" y2="607" stroke="#000" stroke-width="1.4" stroke-dasharray="3 5" stroke-dashoffset="1.9"/>
<path d="M567.5,462.2 V676.3 M557.3,666.5 H907.5 M557.3,486.5 H567.5 M557.3,546.5 H567.5 M557.3,606.5 H567.5 M609.3,666.5 V676.3 M652.4,666.5 V676.3 M694.2,666.5 V676.3 M737.4,666.5 V676.3 M779,666.5 V676.3 M822.1,666.5 V676.3 M865.2,666.5 V676.3 M907.2,666.5 V676.3" stroke="#000" stroke-width="1.4" fill="none"/>
<text transform="translate(552.6,491.9) scale(0.92,1)" text-anchor="end">1.0</text>
<text transform="translate(552.6,551.9) scale(0.92,1)" text-anchor="end">0.5</text>
<text transform="translate(552.6,611.9) scale(0.92,1)" text-anchor="end">0.0</text>
<text transform="translate(552.6,671.9) scale(0.92,1)" text-anchor="end">-0.5</text>
<text transform="translate(567.4,692.7) scale(0.92,1)" text-anchor="middle">-4</text>
<text transform="translate(609.3,692.7) scale(0.92,1)" text-anchor="middle">-3</text>
<text transform="translate(652.4,692.7) scale(0.92,1)" text-anchor="middle">-2</text>
<text transform="translate(694.2,692.7) scale(0.92,1)" text-anchor="middle">-1</text>
<text transform="translate(737.4,692.7) scale(0.92,1)" text-anchor="middle">0</text>
<text transform="translate(779,692.7) scale(0.92,1)" text-anchor="middle">1</text>
<text transform="translate(822.1,692.7) scale(0.92,1)" text-anchor="middle">2</text>
<text transform="translate(865.2,692.7) scale(0.92,1)" text-anchor="middle">3</text>
<text transform="translate(907.2,692.7) scale(0.92,1)" text-anchor="middle">4</text>
<g fill="none" stroke="#000" stroke-width="2.45" stroke-linejoin="round" stroke-linecap="butt">
<polyline transform="translate(-0.7,-0.7)" points="567.5,607.00 568.8,607.00 570.2,607.00 571.5,607.00 572.8,607.00 574.1,607.00 575.5,607.00 576.8,607.00 578.1,607.00 579.5,607.00 580.8,607.00 582.1,607.00 583.4,607.00 584.8,607.00 586.1,607.00 587.4,607.00 588.8,607.00 590.1,607.00 591.4,607.00 592.7,607.00 594.1,607.00 595.4,607.00 596.7,607.00 598.0,607.00 599.4,607.00 600.7,607.00 602.0,607.00 603.4,607.00 604.7,607.00 606.0,607.00 607.3,607.00 608.7,607.00 610.0,607.00 611.3,607.00 612.7,607.00 614.0,607.00 615.3,606.37 616.6,606.18 618.0,605.99 619.3,605.79 620.6,605.59 622.0,605.39 623.3,605.19 624.6,605.00 625.9,604.81 627.3,604.63 628.6,604.45 629.9,604.28 631.2,604.12 632.6,603.97 633.9,603.83 635.2,603.72 636.6,603.64 637.9,603.59 639.2,603.59 640.5,603.64 641.9,603.74 643.2,603.89 644.5,604.12 645.9,604.41 647.2,604.77 648.5,605.20 649.8,605.72 651.2,606.32 652.5,607.00 653.8,607.76 655.2,608.60 656.5,609.50 657.8,610.45 659.1,611.45 660.5,612.47 661.8,613.50 663.1,614.53 664.5,615.54 665.8,616.53 667.1,617.49 668.4,618.40 669.8,619.26 671.1,620.05 672.4,620.77 673.8,621.40 675.1,621.94 676.4,622.36 677.7,622.64 679.1,622.78 680.4,622.74 681.7,622.52 683.0,622.09 684.4,621.46 685.7,620.59 687.0,619.49 688.4,618.12 689.7,616.48 691.0,614.56 692.3,612.35 693.7,609.83 695.0,607.00 696.3,603.86 697.7,600.43 699.0,596.72 700.3,592.76 701.6,588.57 703.0,584.17 704.3,579.60 705.6,574.89 707.0,570.06 708.3,565.14 709.6,560.14 710.9,555.11 712.3,550.04 713.6,544.98 714.9,539.95 716.2,534.98 717.6,530.10 718.9,525.33 720.2,520.71 721.6,516.26 722.9,512.03 724.2,508.03 725.5,504.29 726.9,500.83 728.2,497.68 729.5,494.87 730.9,492.43 732.2,490.38 733.5,488.75 734.8,487.57 736.2,486.84 737.5,486.60 738.8,486.84 740.2,487.57 741.5,488.75 742.8,490.38 744.1,492.43 745.5,494.87 746.8,497.68 748.1,500.83 749.5,504.29 750.8,508.03 752.1,512.03 753.4,516.26 754.8,520.71 756.1,525.33 757.4,530.10 758.8,534.98 760.1,539.95 761.4,544.98 762.7,550.04 764.1,555.11 765.4,560.14 766.7,565.14 768.0,570.06 769.4,574.89 770.7,579.60 772.0,584.17 773.4,588.57 774.7,592.76 776.0,596.72 777.3,600.43 778.7,603.86 780.0,607.00 781.3,609.83 782.7,612.35 784.0,614.56 785.3,616.48 786.6,618.12 788.0,619.49 789.3,620.59 790.6,621.46 792.0,622.09 793.3,622.52 794.6,622.74 795.9,622.78 797.3,622.64 798.6,622.36 799.9,621.94 801.2,621.40 802.6,620.77 803.9,620.05 805.2,619.26 806.6,618.40 807.9,617.49 809.2,616.53 810.5,615.54 811.9,614.53 813.2,613.50 814.5,612.47 815.9,611.45 817.2,610.45 818.5,609.50 819.8,608.60 821.2,607.76 822.5,607.00 823.8,606.32 825.2,605.72 826.5,605.20 827.8,604.77 829.1,604.41 830.5,604.12 831.8,603.89 833.1,603.74 834.5,603.64 835.8,603.59 837.1,603.59 838.4,603.64 839.8,603.72 841.1,603.83 842.4,603.97 843.8,604.12 845.1,604.28 846.4,604.45 847.7,604.63 849.1,604.81 850.4,605.00 851.7,605.19 853.0,605.39 854.4,605.59 855.7,605.79 857.0,605.99 858.4,606.18 859.7,606.37 861.0,607.00 862.3,607.00 863.7,607.00 865.0,607.00 866.3,607.00 867.7,607.00 869.0,607.00 870.3,607.00 871.6,607.00 873.0,607.00 874.3,607.00 875.6,607.00 877.0,607.00 878.3,607.00 879.6,607.00 880.9,607.00 882.3,607.00 883.6,607.00 884.9,607.00 886.2,607.00 887.6,607.00 888.9,607.00 890.2,607.00 891.6,607.00 892.9,607.00 894.2,607.00 895.5,607.00 896.9,607.00 898.2,607.00 899.5,607.00 900.9,607.00 902.2,607.00 903.5,607.00 904.8,607.00 906.2,607.00 907.5,607.00"/>
<polyline transform="translate(0.7,-0.7)" points="567.5,607.00 568.8,607.00 570.2,607.00 571.5,607.00 572.8,607.00 574.1,607.00 575.5,607.00 576.8,607.00 578.1,607.00 579.5,607.00 580.8,607.00 582.1,607.00 583.4,607.00 584.8,607.00 586.1,607.00 587.4,607.00 588.8,607.00 590.1,607.00 591.4,607.00 592.7,607.00 594.1,607.00 595.4,607.00 596.7,607.00 598.0,607.00 599.4,607.00 600.7,607.00 602.0,607.00 603.4,607.00 604.7,607.00 606.0,607.00 607.3,607.00 608.7,607.00 610.0,607.00 611.3,607.00 612.7,607.00 614.0,607.00 615.3,606.37 616.6,606.18 618.0,605.99 619.3,605.79 620.6,605.59 622.0,605.39 623.3,605.19 624.6,605.00 625.9,604.81 627.3,604.63 628.6,604.45 629.9,604.28 631.2,604.12 632.6,603.97 633.9,603.83 635.2,603.72 636.6,603.64 637.9,603.59 639.2,603.59 640.5,603.64 641.9,603.74 643.2,603.89 644.5,604.12 645.9,604.41 647.2,604.77 648.5,605.20 649.8,605.72 651.2,606.32 652.5,607.00 653.8,607.76 655.2,608.60 656.5,609.50 657.8,610.45 659.1,611.45 660.5,612.47 661.8,613.50 663.1,614.53 664.5,615.54 665.8,616.53 667.1,617.49 668.4,618.40 669.8,619.26 671.1,620.05 672.4,620.77 673.8,621.40 675.1,621.94 676.4,622.36 677.7,622.64 679.1,622.78 680.4,622.74 681.7,622.52 683.0,622.09 684.4,621.46 685.7,620.59 687.0,619.49 688.4,618.12 689.7,616.48 691.0,614.56 692.3,612.35 693.7,609.83 695.0,607.00 696.3,603.86 697.7,600.43 699.0,596.72 700.3,592.76 701.6,588.57 703.0,584.17 704.3,579.60 705.6,574.89 707.0,570.06 708.3,565.14 709.6,560.14 710.9,555.11 712.3,550.04 713.6,544.98 714.9,539.95 716.2,534.98 717.6,530.10 718.9,525.33 720.2,520.71 721.6,516.26 722.9,512.03 724.2,508.03 725.5,504.29 726.9,500.83 728.2,497.68 729.5,494.87 730.9,492.43 732.2,490.38 733.5,488.75 734.8,487.57 736.2,486.84 737.5,486.60 738.8,486.84 740.2,487.57 741.5,488.75 742.8,490.38 744.1,492.43 745.5,494.87 746.8,497.68 748.1,500.83 749.5,504.29 750.8,508.03 752.1,512.03 753.4,516.26 754.8,520.71 756.1,525.33 757.4,530.10 758.8,534.98 760.1,539.95 761.4,544.98 762.7,550.04 764.1,555.11 765.4,560.14 766.7,565.14 768.0,570.06 769.4,574.89 770.7,579.60 772.0,584.17 773.4,588.57 774.7,592.76 776.0,596.72 777.3,600.43 778.7,603.86 780.0,607.00 781.3,609.83 782.7,612.35 784.0,614.56 785.3,616.48 786.6,618.12 788.0,619.49 789.3,620.59 790.6,621.46 792.0,622.09 793.3,622.52 794.6,622.74 795.9,622.78 797.3,622.64 798.6,622.36 799.9,621.94 801.2,621.40 802.6,620.77 803.9,620.05 805.2,619.26 806.6,618.40 807.9,617.49 809.2,616.53 810.5,615.54 811.9,614.53 813.2,613.50 814.5,612.47 815.9,611.45 817.2,610.45 818.5,609.50 819.8,608.60 821.2,607.76 822.5,607.00 823.8,606.32 825.2,605.72 826.5,605.20 827.8,604.77 829.1,604.41 830.5,604.12 831.8,603.89 833.1,603.74 834.5,603.64 835.8,603.59 837.1,603.59 838.4,603.64 839.8,603.72 841.1,603.83 842.4,603.97 843.8,604.12 845.1,604.28 846.4,604.45 847.7,604.63 849.1,604.81 850.4,605.00 851.7,605.19 853.0,605.39 854.4,605.59 855.7,605.79 857.0,605.99 858.4,606.18 859.7,606.37 861.0,607.00 862.3,607.00 863.7,607.00 865.0,607.00 866.3,607.00 867.7,607.00 869.0,607.00 870.3,607.00 871.6,607.00 873.0,607.00 874.3,607.00 875.6,607.00 877.0,607.00 878.3,607.00 879.6,607.00 880.9,607.00 882.3,607.00 883.6,607.00 884.9,607.00 886.2,607.00 887.6,607.00 888.9,607.00 890.2,607.00 891.6,607.00 892.9,607.00 894.2,607.00 895.5,607.00 896.9,607.00 898.2,607.00 899.5,607.00 900.9,607.00 902.2,607.00 903.5,607.00 904.8,607.00 906.2,607.00 907.5,607.00"/>
<polyline transform="translate(-0.7,0.7)" points="567.5,607.00 568.8,607.00 570.2,607.00 571.5,607.00 572.8,607.00 574.1,607.00 575.5,607.00 576.8,607.00 578.1,607.00 579.5,607.00 580.8,607.00 582.1,607.00 583.4,607.00 584.8,607.00 586.1,607.00 587.4,607.00 588.8,607.00 590.1,607.00 591.4,607.00 592.7,607.00 594.1,607.00 595.4,607.00 596.7,607.00 598.0,607.00 599.4,607.00 600.7,607.00 602.0,607.00 603.4,607.00 604.7,607.00 606.0,607.00 607.3,607.00 608.7,607.00 610.0,607.00 611.3,607.00 612.7,607.00 614.0,607.00 615.3,606.37 616.6,606.18 618.0,605.99 619.3,605.79 620.6,605.59 622.0,605.39 623.3,605.19 624.6,605.00 625.9,604.81 627.3,604.63 628.6,604.45 629.9,604.28 631.2,604.12 632.6,603.97 633.9,603.83 635.2,603.72 636.6,603.64 637.9,603.59 639.2,603.59 640.5,603.64 641.9,603.74 643.2,603.89 644.5,604.12 645.9,604.41 647.2,604.77 648.5,605.20 649.8,605.72 651.2,606.32 652.5,607.00 653.8,607.76 655.2,608.60 656.5,609.50 657.8,610.45 659.1,611.45 660.5,612.47 661.8,613.50 663.1,614.53 664.5,615.54 665.8,616.53 667.1,617.49 668.4,618.40 669.8,619.26 671.1,620.05 672.4,620.77 673.8,621.40 675.1,621.94 676.4,622.36 677.7,622.64 679.1,622.78 680.4,622.74 681.7,622.52 683.0,622.09 684.4,621.46 685.7,620.59 687.0,619.49 688.4,618.12 689.7,616.48 691.0,614.56 692.3,612.35 693.7,609.83 695.0,607.00 696.3,603.86 697.7,600.43 699.0,596.72 700.3,592.76 701.6,588.57 703.0,584.17 704.3,579.60 705.6,574.89 707.0,570.06 708.3,565.14 709.6,560.14 710.9,555.11 712.3,550.04 713.6,544.98 714.9,539.95 716.2,534.98 717.6,530.10 718.9,525.33 720.2,520.71 721.6,516.26 722.9,512.03 724.2,508.03 725.5,504.29 726.9,500.83 728.2,497.68 729.5,494.87 730.9,492.43 732.2,490.38 733.5,488.75 734.8,487.57 736.2,486.84 737.5,486.60 738.8,486.84 740.2,487.57 741.5,488.75 742.8,490.38 744.1,492.43 745.5,494.87 746.8,497.68 748.1,500.83 749.5,504.29 750.8,508.03 752.1,512.03 753.4,516.26 754.8,520.71 756.1,525.33 757.4,530.10 758.8,534.98 760.1,539.95 761.4,544.98 762.7,550.04 764.1,555.11 765.4,560.14 766.7,565.14 768.0,570.06 769.4,574.89 770.7,579.60 772.0,584.17 773.4,588.57 774.7,592.76 776.0,596.72 777.3,600.43 778.7,603.86 780.0,607.00 781.3,609.83 782.7,612.35 784.0,614.56 785.3,616.48 786.6,618.12 788.0,619.49 789.3,620.59 790.6,621.46 792.0,622.09 793.3,622.52 794.6,622.74 795.9,622.78 797.3,622.64 798.6,622.36 799.9,621.94 801.2,621.40 802.6,620.77 803.9,620.05 805.2,619.26 806.6,618.40 807.9,617.49 809.2,616.53 810.5,615.54 811.9,614.53 813.2,613.50 814.5,612.47 815.9,611.45 817.2,610.45 818.5,609.50 819.8,608.60 821.2,607.76 822.5,607.00 823.8,606.32 825.2,605.72 826.5,605.20 827.8,604.77 829.1,604.41 830.5,604.12 831.8,603.89 833.1,603.74 834.5,603.64 835.8,603.59 837.1,603.59 838.4,603.64 839.8,603.72 841.1,603.83 842.4,603.97 843.8,604.12 845.1,604.28 846.4,604.45 847.7,604.63 849.1,604.81 850.4,605.00 851.7,605.19 853.0,605.39 854.4,605.59 855.7,605.79 857.0,605.99 858.4,606.18 859.7,606.37 861.0,607.00 862.3,607.00 863.7,607.00 865.0,607.00 866.3,607.00 867.7,607.00 869.0,607.00 870.3,607.00 871.6,607.00 873.0,607.00 874.3,607.00 875.6,607.00 877.0,607.00 878.3,607.00 879.6,607.00 880.9,607.00 882.3,607.00 883.6,607.00 884.9,607.00 886.2,607.00 887.6,607.00 888.9,607.00 890.2,607.00 891.6,607.00 892.9,607.00 894.2,607.00 895.5,607.00 896.9,607.00 898.2,607.00 899.5,607.00 900.9,607.00 902.2,607.00 903.5,607.00 904.8,607.00 906.2,607.00 907.5,607.00"/>
<polyline transform="translate(0.7,0.7)" points="567.5,607.00 568.8,607.00 570.2,607.00 571.5,607.00 572.8,607.00 574.1,607.00 575.5,607.00 576.8,607.00 578.1,607.00 579.5,607.00 580.8,607.00 582.1,607.00 583.4,607.00 584.8,607.00 586.1,607.00 587.4,607.00 588.8,607.00 590.1,607.00 591.4,607.00 592.7,607.00 594.1,607.00 595.4,607.00 596.7,607.00 598.0,607.00 599.4,607.00 600.7,607.00 602.0,607.00 603.4,607.00 604.7,607.00 606.0,607.00 607.3,607.00 608.7,607.00 610.0,607.00 611.3,607.00 612.7,607.00 614.0,607.00 615.3,606.37 616.6,606.18 618.0,605.99 619.3,605.79 620.6,605.59 622.0,605.39 623.3,605.19 624.6,605.00 625.9,604.81 627.3,604.63 628.6,604.45 629.9,604.28 631.2,604.12 632.6,603.97 633.9,603.83 635.2,603.72 636.6,603.64 637.9,603.59 639.2,603.59 640.5,603.64 641.9,603.74 643.2,603.89 644.5,604.12 645.9,604.41 647.2,604.77 648.5,605.20 649.8,605.72 651.2,606.32 652.5,607.00 653.8,607.76 655.2,608.60 656.5,609.50 657.8,610.45 659.1,611.45 660.5,612.47 661.8,613.50 663.1,614.53 664.5,615.54 665.8,616.53 667.1,617.49 668.4,618.40 669.8,619.26 671.1,620.05 672.4,620.77 673.8,621.40 675.1,621.94 676.4,622.36 677.7,622.64 679.1,622.78 680.4,622.74 681.7,622.52 683.0,622.09 684.4,621.46 685.7,620.59 687.0,619.49 688.4,618.12 689.7,616.48 691.0,614.56 692.3,612.35 693.7,609.83 695.0,607.00 696.3,603.86 697.7,600.43 699.0,596.72 700.3,592.76 701.6,588.57 703.0,584.17 704.3,579.60 705.6,574.89 707.0,570.06 708.3,565.14 709.6,560.14 710.9,555.11 712.3,550.04 713.6,544.98 714.9,539.95 716.2,534.98 717.6,530.10 718.9,525.33 720.2,520.71 721.6,516.26 722.9,512.03 724.2,508.03 725.5,504.29 726.9,500.83 728.2,497.68 729.5,494.87 730.9,492.43 732.2,490.38 733.5,488.75 734.8,487.57 736.2,486.84 737.5,486.60 738.8,486.84 740.2,487.57 741.5,488.75 742.8,490.38 744.1,492.43 745.5,494.87 746.8,497.68 748.1,500.83 749.5,504.29 750.8,508.03 752.1,512.03 753.4,516.26 754.8,520.71 756.1,525.33 757.4,530.10 758.8,534.98 760.1,539.95 761.4,544.98 762.7,550.04 764.1,555.11 765.4,560.14 766.7,565.14 768.0,570.06 769.4,574.89 770.7,579.60 772.0,584.17 773.4,588.57 774.7,592.76 776.0,596.72 777.3,600.43 778.7,603.86 780.0,607.00 781.3,609.83 782.7,612.35 784.0,614.56 785.3,616.48 786.6,618.12 788.0,619.49 789.3,620.59 790.6,621.46 792.0,622.09 793.3,622.52 794.6,622.74 795.9,622.78 797.3,622.64 798.6,622.36 799.9,621.94 801.2,621.40 802.6,620.77 803.9,620.05 805.2,619.26 806.6,618.40 807.9,617.49 809.2,616.53 810.5,615.54 811.9,614.53 813.2,613.50 814.5,612.47 815.9,611.45 817.2,610.45 818.5,609.50 819.8,608.60 821.2,607.76 822.5,607.00 823.8,606.32 825.2,605.72 826.5,605.20 827.8,604.77 829.1,604.41 830.5,604.12 831.8,603.89 833.1,603.74 834.5,603.64 835.8,603.59 837.1,603.59 838.4,603.64 839.8,603.72 841.1,603.83 842.4,603.97 843.8,604.12 845.1,604.28 846.4,604.45 847.7,604.63 849.1,604.81 850.4,605.00 851.7,605.19 853.0,605.39 854.4,605.59 855.7,605.79 857.0,605.99 858.4,606.18 859.7,606.37 861.0,607.00 862.3,607.00 863.7,607.00 865.0,607.00 866.3,607.00 867.7,607.00 869.0,607.00 870.3,607.00 871.6,607.00 873.0,607.00 874.3,607.00 875.6,607.00 877.0,607.00 878.3,607.00 879.6,607.00 880.9,607.00 882.3,607.00 883.6,607.00 884.9,607.00 886.2,607.00 887.6,607.00 888.9,607.00 890.2,607.00 891.6,607.00 892.9,607.00 894.2,607.00 895.5,607.00 896.9,607.00 898.2,607.00 899.5,607.00 900.9,607.00 902.2,607.00 903.5,607.00 904.8,607.00 906.2,607.00 907.5,607.00"/>
</g>
<g fill="#06aa06"><polygon points="807.7,511.3 807.7,489.3 812.6,489.3 821.8,504.7 821.8,489.3 825.7,489.3 825.7,511.3 820.8,511.3 811.6,495.9 811.6,511.3"/><rect x="839.8" y="493.6" width="9" height="3.5"/><rect x="839.8" y="501.7" width="9" height="3.7"/><ellipse cx="870.6" cy="494.7" rx="4.7" ry="4.1" fill="none" stroke="#06aa06" stroke-width="4.0"/><ellipse cx="870.6" cy="505.3" rx="6.0" ry="4.5" fill="none" stroke="#06aa06" stroke-width="4.2"/></g>
</g>
</svg>
</body></html>
